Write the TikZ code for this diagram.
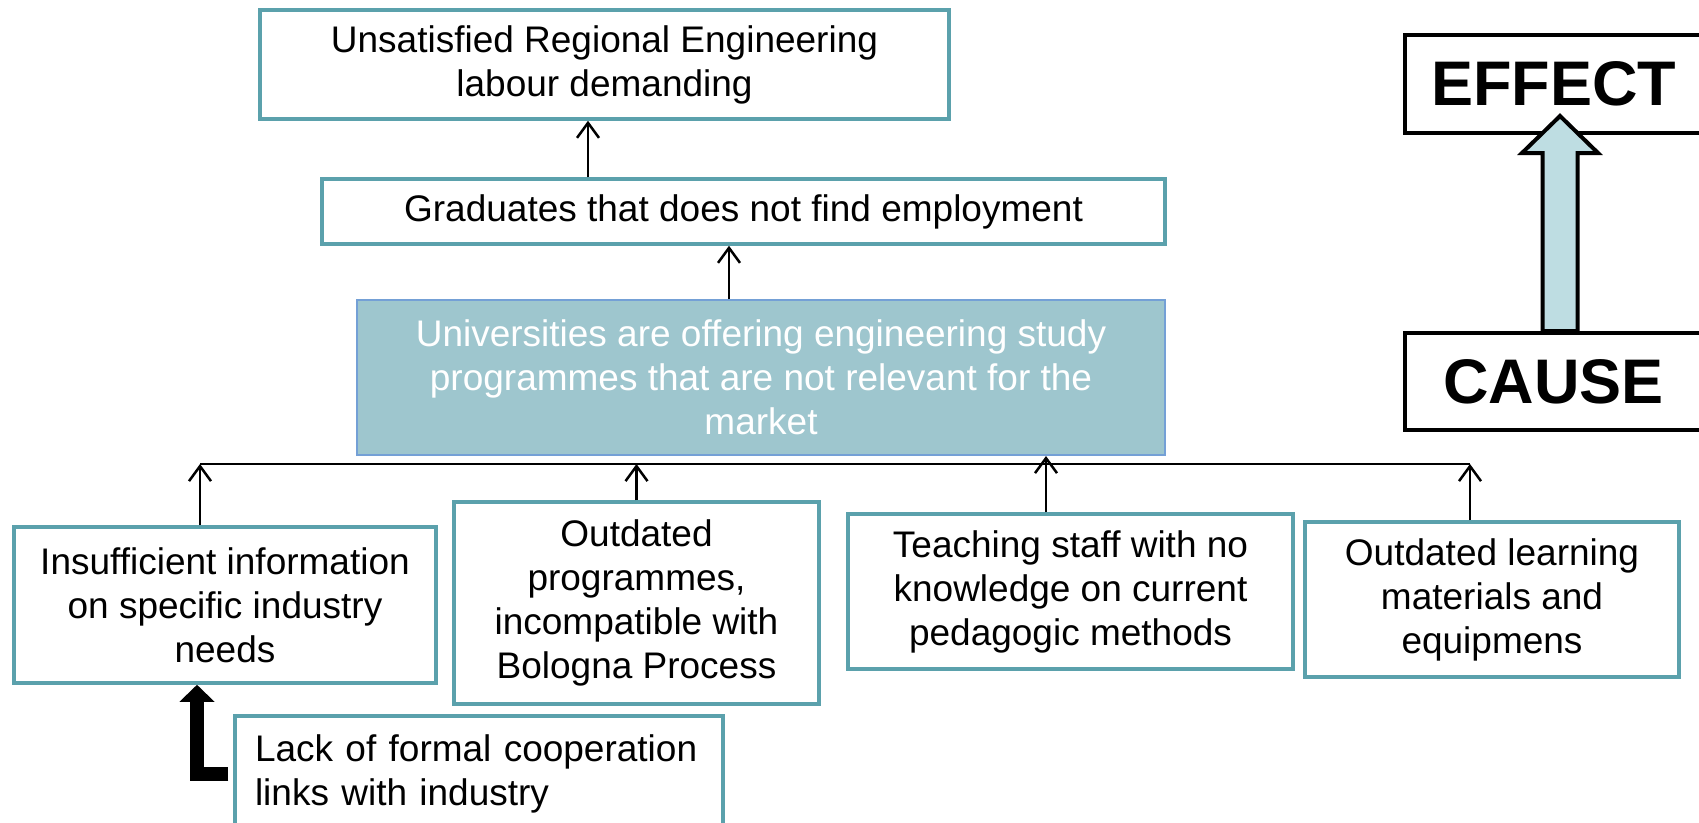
\documentclass[tikz,border=0pt]{standalone}
\usepackage{fontspec}
\setmainfont{Liberation Sans}
\usetikzlibrary{arrows.meta}
\definecolor{boxteal}{RGB}{91,161,172}
\definecolor{corefill}{RGB}{158,198,206}
\definecolor{coreline}{RGB}{116,160,214}
\definecolor{arrowfill}{RGB}{190,221,226}
\begin{document}
\begin{tikzpicture}[x=1pt,y=-1pt,
    prob/.style={draw=boxteal,line width=3.5pt,fill=white,align=center,inner sep=0pt,
      font={\fontsize{37}{44}\selectfont}},
    core/.style={prob,draw=coreline,line width=2pt,fill=corefill,text=white},
    tag/.style={draw=black,line width=4pt,fill=white,inner sep=0pt,
      font={\fontsize{63}{70}\selectfont\bfseries}},
    link/.style={line width=2.5pt,-{Straight Barb[length=15pt,width=22pt]}},
    fat/.style={line width=14pt,line join=miter,-{Triangle[width=34pt,length=17pt]}},
    fatup/.style={draw=black,line width=4pt,fill=arrowfill,line join=miter}]
  \useasboundingbox (0,0) rectangle (1699,822);
  \draw
    (604.5,64.5) node[prob,minimum width=689pt,minimum height=109pt] (top)
      {Unsatisfied Regional Engineering\\labour demanding}
    (743.5,211.5) node[prob,minimum width=843pt,minimum height=65pt] (grad)
      {Graduates that does not find employment}
    (761,377.5) node[core,minimum width=808pt,minimum height=155pt] (core)
      {Universities are offering engineering study\\programmes that are not relevant for the\\market}
    (225,605) node[prob,minimum width=422pt,minimum height=156pt] (info)
      {Insufficient information\\on specific industry\\needs}
    (636.5,603) node[prob,minimum width=365pt,minimum height=202pt] (prog)
      {Outdated\\programmes,\\incompatible with\\Bologna Process}
    (1070.5,591.5) node[prob,minimum width=445pt,minimum height=155pt] (staff)
      {Teaching staff with no\\knowledge on current\\pedagogic methods}
    (1492,599.5) node[prob,minimum width=374pt,minimum height=155pt] (mat)
      {Outdated learning\\materials and\\equipmens}
    (479,774) node[prob,align=left,text width=448pt,inner xsep=20pt,minimum height=116pt] (coop)
      {Lack of formal cooperation\\links with industry}
    (1553.5,84) node[tag,minimum width=297pt,minimum height=98pt] (effect) {EFFECT}
    (1553.5,381.5) node[tag,minimum width=297pt,minimum height=97pt] (cause) {CAUSE};
  \coordinate (b1) at (200,464);
  \coordinate (b4) at (1470,464);
  \begin{scope}[link]
    \draw ([xshift=-155.5pt]grad.north) to ([xshift=-155.5pt]grad.north |- top.south);
    \draw ([xshift=-32pt]core.north) to ([xshift=-32pt]core.north |- grad.south);
    \draw (info.north -| b1) to (b1);
    \draw (prog.north) to (prog.north |- b1);
    \draw ([xshift=-24.5pt]staff.north) to ([xshift=-24.5pt]staff.north |- core.south);
    \draw (mat.north -| b4) to (b4);
  \end{scope}
  \draw[line width=2pt] (b1) -- (b4);
  \draw[fat] ([xshift=-5pt]coop.west) -| ([xshift=-28pt]info.south);
  \filldraw[fatup] ([xshift=-11pt]cause.north) -- ++(0,-178) -- ++(-20.5,0)
    -- ++(38,-37) -- ++(38,37) -- ++(-20.5,0) -- ++(0,178) -- cycle;
\end{tikzpicture}
\end{document}
